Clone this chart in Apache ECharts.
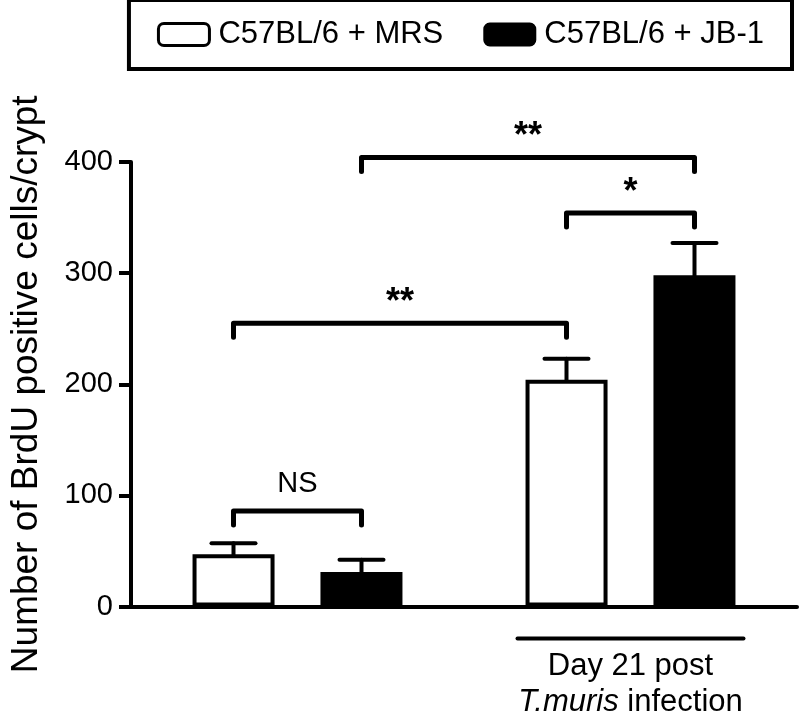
<!DOCTYPE html>
<html>
<head>
<meta charset="utf-8">
<script src="https://cdn.jsdelivr.net/npm/echarts@6/dist/echarts.min.js"></script>
<style>
  html, body { margin: 0; padding: 0; background: #fff; }
  #chart { width: 800px; height: 718px; }
</style>
</head>
<body>
<div id="chart"></div>
<script>
// groups on the x axis (first group has no label in the figure)
const categories = ['', 'Day 21 post']
const infectionLabel = ['T.muris', 'infection']
const seriesNames = ['C57BL/6 + MRS', 'C57BL/6 + JB-1']

// mean BrdU+ cells per crypt and upper error (SEM)
const mrsValues = [47, 204]
const jb1Values = [31, 298]
const mrsErr = [10, 19]
const jb1Err = [11, 29]

// significance brackets: [group A, series A, group B, series B, height]
const brackets = [
  [0, 0, 0, 1, 86],
  [0, 0, 1, 0, 255],
  [1, 0, 1, 1, 354],
  [0, 1, 1, 1, 404]
]
const bracketLabels = ['NS', '**', '*', '**']

const yTicks = [0, 100, 200, 300, 400]

const FONT = 'Arial, "Liberation Sans", Helvetica, sans-serif'
const BAR_W = 82
const HALF_STEP = 64 // half distance between bar centres within a group

const chart = echarts.init(document.getElementById('chart'), null, { renderer: 'canvas' })

const errData = []
mrsValues.forEach((v, i) => errData.push([i, 0, v, mrsErr[i]]))
jb1Values.forEach((v, i) => errData.push([i, 1, v, jb1Err[i]]))

function barX(api, cat, ser, val) {
  const p = api.coord([cat, val])
  return [p[0] + (ser === 0 ? -HALF_STEP : HALF_STEP), p[1]]
}

chart.setOption({
  animation: false,
  backgroundColor: '#fff',
  textStyle: { fontFamily: FONT, color: '#000' },
  legend: {
    top: 0,
    right: 8,
    orient: 'horizontal',
    borderColor: '#000',
    borderWidth: 4,
    padding: [19, 28, 19, 28],
    itemGap: 40,
    itemWidth: 51,
    itemHeight: 22,
    icon: 'roundRect',
    textStyle: { fontSize: 31, fontFamily: FONT, color: '#000', padding: [0, 0, 0, 4] },
    data: [
      { name: seriesNames[0], itemStyle: { color: '#fff', borderColor: '#000', borderWidth: 3 } },
      { name: seriesNames[1], itemStyle: { color: '#000' } }
    ]
  },
  grid: { left: 128, right: 3, top: 162, bottom: 110, containLabel: false },
  xAxis: {
    type: 'category',
    data: categories,
    axisLine: { lineStyle: { color: '#000', width: 4 } },
    axisTick: { show: false },
    axisLabel: {
      interval: 0,
      margin: 22,
      formatter: v => v ? '{line|}\n{a|' + v + '}\n{i|' + infectionLabel[0] + ' }{a|' + infectionLabel[1] + '}' : '',
      rich: {
        line: { width: 230, height: 4, backgroundColor: '#000', borderRadius: 2, lineHeight: 20 },
        a: { fontSize: 31, fontFamily: FONT, color: '#000', lineHeight: 36 },
        i: { fontSize: 31, fontFamily: FONT, fontStyle: 'italic', color: '#000', lineHeight: 36 }
      }
    }
  },
  yAxis: {
    type: 'value',
    min: 0,
    max: 400,
    interval: 100,
    name: 'Number of BrdU positive cells/crypt',
    nameLocation: 'middle',
    nameGap: 86,
    nameTextStyle: { fontSize: 37, fontFamily: FONT, color: '#000' },
    axisLine: { show: true, lineStyle: { color: '#000', width: 4 } },
    axisTick: { show: true, length: 12, lineStyle: { color: '#000', width: 4 } },
    axisLabel: {
      fontSize: 29, fontFamily: FONT, color: '#000', margin: 18,
      formatter: v => yTicks.includes(v) ? String(v) : ''
    },
    splitLine: { show: false }
  },
  series: [
    {
      name: seriesNames[0],
      type: 'bar',
      data: mrsValues,
      barWidth: BAR_W,
      barGap: '56%',
      itemStyle: { color: '#fff', borderColor: '#000', borderWidth: 4 }
    },
    {
      name: seriesNames[1],
      type: 'bar',
      data: jb1Values,
      barWidth: BAR_W,
      itemStyle: { color: '#000', borderColor: '#000', borderWidth: 2 }
    },
    {
      type: 'custom',
      name: 'err',
      data: errData,
      encode: { x: 0, y: 2 },
      z: 5,
      renderItem: function (params, api) {
        const cat = api.value(0), ser = api.value(1), v = api.value(2), e = api.value(3)
        const b = barX(api, cat, ser, v)
        const t = barX(api, cat, ser, v + e)
        const style = { stroke: '#000', lineWidth: 4, lineCap: 'round' }
        return {
          type: 'group',
          children: [
            { type: 'line', shape: { x1: b[0], y1: b[1], x2: t[0], y2: t[1] }, style: style },
            { type: 'line', shape: { x1: t[0] - 22, y1: t[1], x2: t[0] + 22, y2: t[1] }, style: style }
          ]
        }
      }
    },
    {
      type: 'custom',
      name: 'sig',
      data: brackets,
      encode: { x: 0, y: 4 },
      clip: false,
      z: 6,
      renderItem: function (params, api) {
        const a = barX(api, api.value(0), api.value(1), api.value(4))
        const b = barX(api, api.value(2), api.value(3), api.value(4))
        const label = bracketLabels[params.dataIndex]
        const style = { stroke: '#000', lineWidth: 5, lineCap: 'round', lineJoin: 'round', fill: null }
        const star = label.indexOf('*') >= 0
        return {
          type: 'group',
          children: [
            { type: 'polyline', shape: { points: [[a[0], a[1] + 14], [a[0], a[1]], [b[0], b[1]], [b[0], b[1] + 14]] }, style: style },
            {
              type: 'text',
              style: {
                text: label,
                x: (a[0] + b[0]) / 2,
                y: a[1] - (star ? 2 : 12),
                align: 'center',
                verticalAlign: 'bottom',
                font: (star ? 'bold 36px ' : '29px ') + FONT,
                fill: '#000'
              }
            }
          ]
        }
      }
    }
  ]
})
</script>
</body>
</html>
